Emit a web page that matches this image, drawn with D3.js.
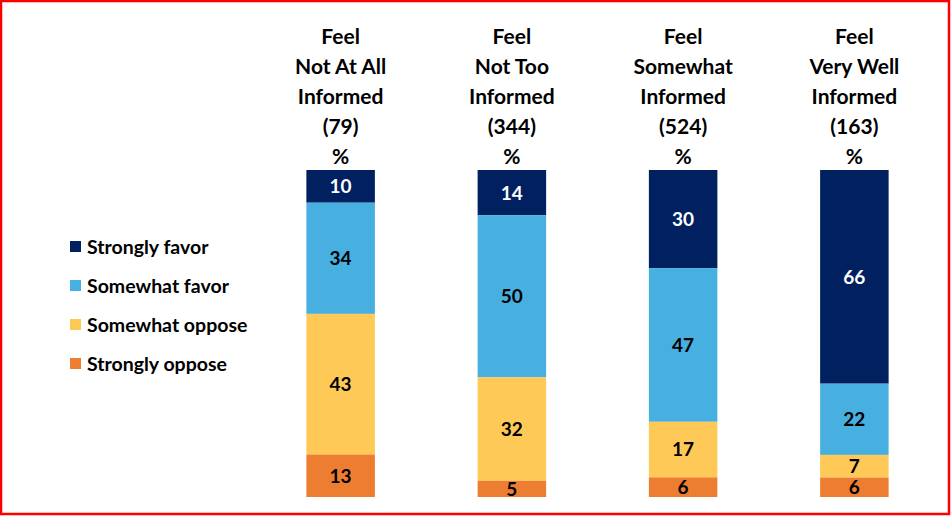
<!DOCTYPE html>
<html>
<head>
<meta charset="utf-8">
<script src="https://cdn.jsdelivr.net/npm/d3@7"></script>
<style>
  html, body { margin: 0; padding: 0; background: #fff; }
  svg text { font-family: Lato, "Open Sans", sans-serif; font-weight: bold; }
</style>
</head>
<body>
<div id="chart"></div>
<script>
// groups (column headers)
var groupLines = [
  ["Feel", "Not At All", "Informed", "(79)", "%"],
  ["Feel", "Not Too", "Informed", "(344)", "%"],
  ["Feel", "Somewhat", "Informed", "(524)", "%"],
  ["Feel", "Very Well", "Informed", "(163)", "%"]
];
var groups = ["notAtAll", "notToo", "somewhat", "veryWell"];

// series, top to bottom in each bar
var seriesNames = ["Strongly favor", "Somewhat favor", "Somewhat oppose", "Strongly oppose"];
var stronglyFavor  = [10, 14, 30, 66];
var somewhatFavor  = [34, 50, 47, 22];
var somewhatOppose = [43, 32, 17, 7];
var stronglyOppose = [13, 5, 6, 6];

var colors = ["#002060", "#47b0e0", "#ffc957", "#ed7d31"];
var labelColors = ["#fff", "#000", "#000", "#000"];

var width = 951, height = 516;

var svg = d3.select("#chart").append("svg")
  .attr("width", width)
  .attr("height", height);

// red frame
svg.append("rect")
  .attr("x", 1).attr("y", 1)
  .attr("width", 948).attr("height", 513)
  .attr("fill", "none")
  .attr("stroke", "#ff0000")
  .attr("stroke-width", 2.5);

var table = groups.map(function(g, i) {
  return {
    group: g,
    "Strongly favor": stronglyFavor[i],
    "Somewhat favor": somewhatFavor[i],
    "Somewhat oppose": somewhatOppose[i],
    "Strongly oppose": stronglyOppose[i]
  };
});

// each bar fills the full height, so normalise by its own total
var stack = d3.stack().keys(seriesNames).offset(d3.stackOffsetExpand);
var layers = stack(table);

var x = d3.scaleBand()
  .domain(groups)
  .range([255, 940])
  .paddingInner(0.6)
  .paddingOuter(0.3);

var y = d3.scaleLinear()
  .domain([0, 1])
  .range([170, 497]);

// headers
groups.forEach(function(g, i) {
  var t = svg.append("text")
    .attr("x", x(g) + x.bandwidth() / 2)
    .attr("y", 44)
    .attr("text-anchor", "middle")
    .attr("font-size", 21)
    .attr("fill", "#000");
  groupLines[i].forEach(function(line, j) {
    t.append("tspan")
      .attr("x", x(g) + x.bandwidth() / 2)
      .attr("dy", j === 0 ? 0 : 30)
      .text(line);
  });
});

var layer = svg.selectAll("g.layer")
  .data(layers)
  .enter().append("g")
  .attr("class", "layer");

layer.each(function(l, k) {
  var g = d3.select(this);
  g.selectAll("rect")
    .data(l)
    .enter().append("rect")
    .attr("x", function(d) { return x(d.data.group); })
    .attr("y", function(d) { return y(d[0]); })
    .attr("width", x.bandwidth())
    .attr("height", function(d) { return y(d[1]) - y(d[0]); })
    .attr("fill", colors[k]);

  g.selectAll("text")
    .data(l)
    .enter().append("text")
    .attr("x", function(d) { return x(d.data.group) + x.bandwidth() / 2; })
    .attr("y", function(d) { return (y(d[0]) + y(d[1])) / 2; })
    .attr("dy", "0.36em")
    .attr("text-anchor", "middle")
    .attr("font-size", 19)
    .attr("fill", labelColors[k])
    .text(function(d) { return d.data[l.key]; });
});

// legend
var legend = svg.append("g");
seriesNames.forEach(function(name, i) {
  var ly = 247 + i * 39;
  legend.append("rect")
    .attr("x", 70).attr("y", ly - 6)
    .attr("width", 11).attr("height", 11)
    .attr("fill", colors[i]);
  legend.append("text")
    .attr("x", 87).attr("y", ly)
    .attr("dy", "0.36em")
    .attr("font-size", 19.5)
    .attr("fill", "#000")
    .text(name);
});
</script>
</body>
</html>
